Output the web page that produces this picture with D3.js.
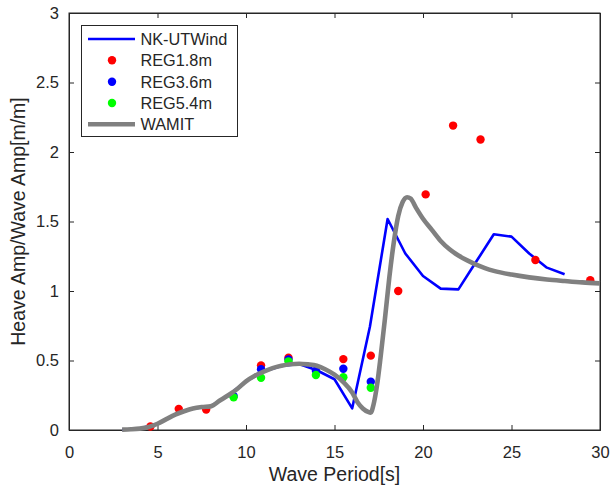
<!DOCTYPE html>
<html><head><meta charset="utf-8">
<script src="https://cdn.jsdelivr.net/npm/d3@7"></script>
<style>body{margin:0;background:#fff}svg{display:block}text{font-family:"Liberation Sans",Arial,Helvetica,sans-serif;fill:#262626}</style>
</head><body>
<svg id="c" width="610" height="489"></svg>
<script>
const xTicks = [0,5,10,15,20,25,30];
const yTicks = [0,0.5,1,1.5,2,2.5,3];
const yTickLabels = ["0","0.5","1","1.5","2","2.5","3"];
const seriesNames = ["NK-UTWind","REG1.8m","REG3.6m","REG5.4m","WAMIT"];

const nkT = [3,4,5,6,7,8,9,10,11,12,13,14,15,16,17,18,19,20,21,22,23,24,25,26,27,28];
const nkA = [0.002,0.01,0.045,0.11,0.155,0.17,0.25,0.35,0.42,0.46,0.475,0.43,0.365,0.156,0.743,1.518,1.27,1.108,1.017,1.012,1.21,1.408,1.391,1.27,1.168,1.12];

const reg18T = [4.6,6.2,7.75,10.85,12.4,15.5,17.05,18.6,20.15,21.7,23.25,26.35,29.45];
const reg18A = [0.025,0.152,0.148,0.465,0.52,0.51,0.535,1.0,1.695,2.19,2.09,1.223,1.078];
const reg36T = [9.3,10.85,12.4,13.95,15.5,17.05];
const reg36A = [0.245,0.437,0.508,0.427,0.441,0.348];
const reg54T = [9.3,10.85,12.4,13.95,15.5,17.05];
const reg54A = [0.235,0.376,0.494,0.396,0.379,0.304];

const wamitT = [3,3.5,4,4.5,5,5.5,6,6.5,7,7.5,8,8.5,9,9.5,10,10.5,11,11.5,12,12.5,13,13.5,14,14.5,15,15.5,16,16.3,16.6,16.9,17.05,17.2,17.4,17.6,17.85,18.1,18.35,18.6,18.85,19.1,19.3,19.6,20,20.5,21,21.5,22,22.5,23,23.5,24,25,26,27,28,29,30];
const wamitA = [0.003,0.005,0.01,0.022,0.045,0.078,0.11,0.135,0.155,0.165,0.17,0.21,0.25,0.295,0.35,0.39,0.42,0.445,0.462,0.473,0.477,0.472,0.462,0.435,0.398,0.345,0.27,0.2,0.155,0.13,0.125,0.18,0.32,0.52,0.8,1.1,1.35,1.54,1.64,1.675,1.665,1.6,1.52,1.44,1.36,1.3,1.255,1.22,1.19,1.165,1.145,1.118,1.098,1.083,1.072,1.062,1.055];

const svg = d3.select("#c");
const L=69, R=600, T=13, B=430;
const x = d3.scaleLinear().domain([0,30]).range([L,R]);
const y = d3.scaleLinear().domain([0,3]).range([B,T]);
const axisCol = "#262626";

// box
svg.append("rect").attr("x",L).attr("y",T).attr("width",R-L).attr("height",B-T)
  .attr("fill","#fff").attr("stroke",axisCol).attr("stroke-width",1);

// axes with inward ticks
const gx = svg.append("g").attr("transform",`translate(0,${B})`)
  .call(d3.axisBottom(x).tickValues(xTicks).tickSize(-5).tickPadding(16).tickFormat(d3.format("d")));
const gxt = svg.append("g").attr("transform",`translate(0,${T})`)
  .call(d3.axisTop(x).tickValues(xTicks).tickSize(-5).tickFormat(""));
const gy = svg.append("g").attr("transform",`translate(${L},0)`)
  .call(d3.axisLeft(y).tickValues(yTicks).tickSize(-5).tickPadding(10).tickFormat((d,i)=>yTickLabels[i]));
const gyr = svg.append("g").attr("transform",`translate(${R},0)`)
  .call(d3.axisRight(y).tickValues(yTicks).tickSize(-5).tickFormat(""));
[gx,gxt,gy,gyr].forEach(g=>{
  g.select(".domain").attr("stroke",axisCol);
  g.selectAll(".tick line").attr("stroke",axisCol);
  g.selectAll("text").style("font-size","16.5px").attr("fill",axisCol).style("font-family",'"Liberation Sans",Arial,sans-serif');
});

// axis labels
svg.append("text").attr("x",(L+R)/2).attr("y",481).attr("text-anchor","middle")
  .style("font-size","19.5px").text("Wave Period[s]");
svg.append("text").attr("transform",`translate(25,${(T+B)/2}) rotate(-90)`).attr("text-anchor","middle")
  .style("font-size","19.5px").text("Heave Amp/Wave Amp[m/m]");

// NK-UTWind line
const line = d3.line().x(d=>x(d[0])).y(d=>y(d[1]));
svg.append("path").datum(nkT.map((t,i)=>[t,nkA[i]])).attr("d",line)
  .attr("fill","none").attr("stroke","#0000ff").attr("stroke-width",2.6).attr("stroke-linejoin","round");

// markers
function dots(ts,as,col){
  svg.append("g").selectAll("circle").data(ts.map((t,i)=>[t,as[i]])).join("circle")
    .attr("cx",d=>x(d[0])).attr("cy",d=>y(d[1])).attr("r",4.2).attr("fill",col);
}
dots(reg18T,reg18A,"#ff0000");
dots(reg36T,reg36A,"#0000ff");
dots(reg54T,reg54A,"#00ff00");

// WAMIT
const lineS = d3.line().x(d=>x(d[0])).y(d=>y(d[1])).curve(d3.curveMonotoneX);
svg.append("path").datum(wamitT.map((t,i)=>[t,wamitA[i]])).attr("d",lineS)
  .attr("fill","none").attr("stroke","#808080").attr("stroke-width",4.6).attr("stroke-linejoin","round");

// legend
const lg = svg.append("g");
lg.append("rect").attr("x",81.5).attr("y",25.5).attr("width",156).attr("height",111)
  .attr("fill","#fff").attr("stroke",axisCol).attr("stroke-width",1);
const rows = [39,60.3,81.7,103,124.3];
const kinds = [["line","#0000ff",2.6],["dot","#ff0000"],["dot","#0000ff"],["dot","#00ff00"],["line","#808080",4.6]];
seriesNames.forEach((n,i)=>{
  const k = kinds[i];
  if(k[0]==="line"){
    lg.append("line").attr("x1",88).attr("x2",135).attr("y1",rows[i]).attr("y2",rows[i])
      .attr("stroke",k[1]).attr("stroke-width",k[2]);
  } else {
    lg.append("circle").attr("cx",112).attr("cy",rows[i]).attr("r",4.2).attr("fill",k[1]);
  }
  lg.append("text").attr("x",140.5).attr("y",rows[i]).attr("dy","0.36em").style("font-size","16.3px").text(n);
});
</script>
</body></html>
